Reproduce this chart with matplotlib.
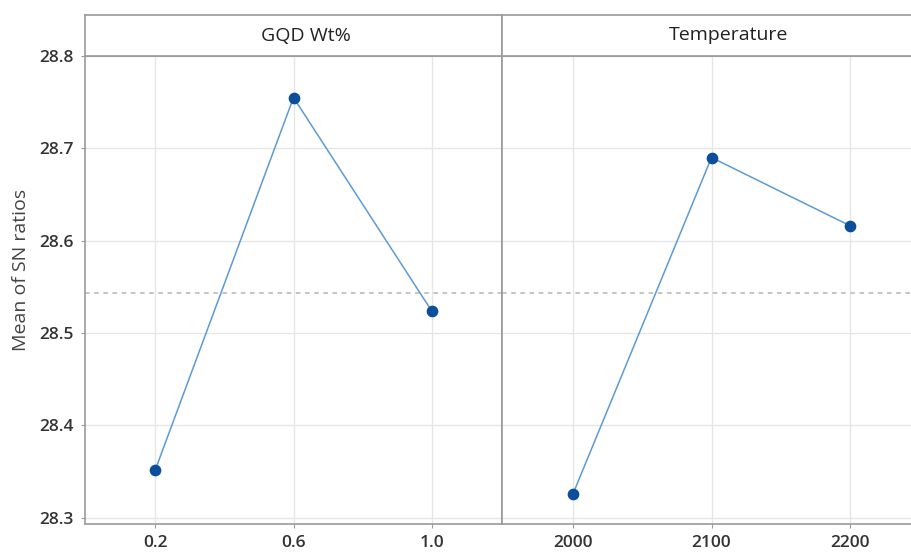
import matplotlib.pyplot as plt

GQD_LEVELS = ["0.2", "0.6", "1.0"]
GQD_SN = [28.352, 28.755, 28.524]
TEMP_LEVELS = ["2000", "2100", "2200"]
TEMP_SN = [28.325, 28.690, 28.616]
Y_TICKS = [28.3, 28.4, 28.5, 28.6, 28.7, 28.8]

LINE_COLOR = "#5b9bd5"
MARKER_COLOR = "#0b4f9c"
FRAME_COLOR = "#9a9a9a"
GRID_COLOR = "#e6e6e6"

plt.rcParams["font.family"] = ["Open Sans", "DejaVu Sans"]

W, H = 911, 552
fig = plt.figure(figsize=(W / 100, H / 100), dpi=100)

grand_mean = (sum(GQD_SN) + sum(TEMP_SN)) / (len(GQD_SN) + len(TEMP_SN))

# (title, levels, values, left px, right px, title centre px)
panels = [
    ("GQD Wt%", GQD_LEVELS, GQD_SN, 85, 502, 306),
    ("Temperature", TEMP_LEVELS, TEMP_SN, 502, 921, 729),
]

for i, (title, levels, values, x0, x1, cx) in enumerate(panels):
    ax = fig.add_axes([x0 / W, (H - 524) / H, (x1 - x0) / W, (524 - 56) / H])
    xs = list(range(len(levels)))
    ax.plot(xs, values, color=LINE_COLOR, linewidth=1.1, zorder=3)
    ax.scatter(xs, values, s=55, color=MARKER_COLOR, zorder=4)
    ax.axhline(grand_mean, color="#b5b5b5", linestyle=(0, (3, 3)), linewidth=1.1, zorder=2)

    ax.set_xlim(-0.51, 2.51)
    ax.set_ylim(28.293, 28.80)
    ax.set_xticks(xs)
    ax.set_xticklabels(levels, fontsize=12.5, fontweight="semibold", color="#333333")
    ax.set_yticks(Y_TICKS)
    ax.grid(True, color=GRID_COLOR, linewidth=1.0, zorder=0)
    ax.tick_params(axis="both", length=3, color=FRAME_COLOR, pad=5)
    for spine in ax.spines.values():
        spine.set_color(FRAME_COLOR)
        spine.set_linewidth(1.2)

    if i == 0:
        ax.set_yticklabels([f"{t:.1f}" for t in Y_TICKS], fontsize=12.5,
                           fontweight="semibold", color="#333333")
        ax.set_ylabel("Mean of SN ratios", fontsize=14, color="#444444")
        # centre the label on panel + header
        ax.yaxis.set_label_coords(-0.133, (524 - 270) / (524 - 56))
    else:
        ax.tick_params(axis="y", left=False, labelleft=False)

    # header strip above each panel
    hx = fig.add_axes([x0 / W, (H - 56) / H, (x1 - x0) / W, (56 - 15) / H])
    hx.set_xticks([])
    hx.set_yticks([])
    for spine in hx.spines.values():
        spine.set_color(FRAME_COLOR)
        spine.set_linewidth(1.2)
    hx.text((cx - x0) / (x1 - x0), 0.5, title, transform=hx.transAxes,
            ha="center", va="center", fontsize=14, color="#222222")

fig.savefig("out.png", dpi=100)
